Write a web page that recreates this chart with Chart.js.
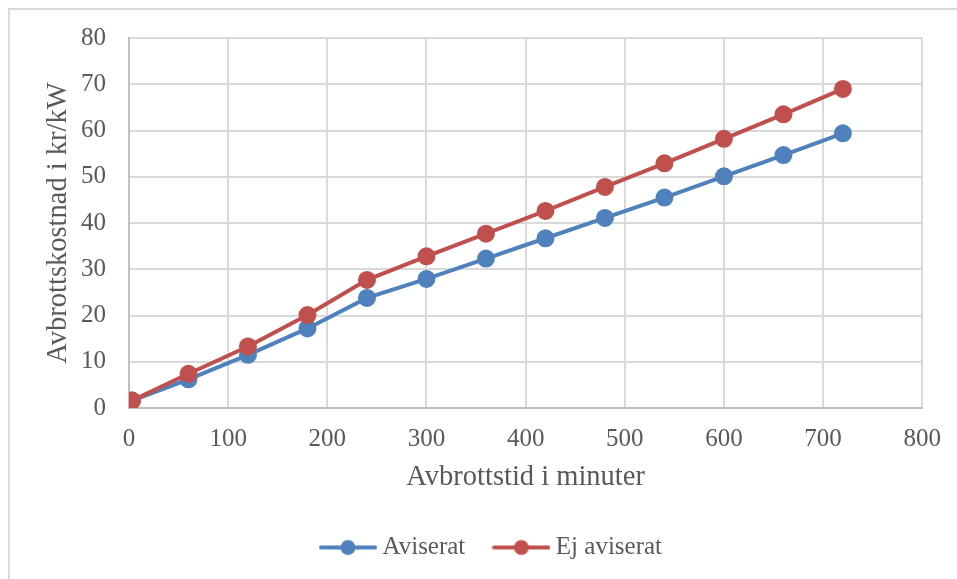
<!DOCTYPE html>
<html>
<head>
<meta charset="utf-8">
<script src="https://cdn.jsdelivr.net/npm/chart.js@4.4.1/dist/chart.umd.min.js"></script>
<style>
    html, body { margin: 0; padding: 0; background: #ffffff; }
    #wrap { position: relative; width: 957px; height: 579px; overflow: hidden; }
    #frame { position: absolute; left: 8px; top: 8px; width: 1200px; height: 800px;
             border-left: 2px solid #d9d9d9; border-top: 2px solid #d9d9d9; }
    #chart { position: absolute; left: 0; top: 0; }
</style>
</head>
<body>
<div id="wrap">
    <div id="frame"></div>
    <canvas id="chart" width="957" height="579"></canvas>
</div>
<script>
// Datos
const minutes = [3, 60, 120, 180, 240, 300, 360, 420, 480, 540, 600, 660, 720];
const aviserat = [1.6, 6.2, 11.5, 17.2, 23.8, 27.9, 32.3, 36.7, 41.1, 45.5, 50.1, 54.7, 59.4];
const ejAviserat = [1.6, 7.4, 13.3, 20.1, 27.7, 32.8, 37.7, 42.6, 47.8, 52.9, 58.2, 63.5, 69.0];
const xTicks = [0, 100, 200, 300, 400, 500, 600, 700, 800];
const yTicks = [0, 10, 20, 30, 40, 50, 60, 70, 80];

const BLUE = '#4f81bd';
const RED = '#c0504d';
const TEXT = '#595959';
const FONT = "'Liberation Serif', 'Times New Roman', serif";

// Icono de leyenda: linea con marcador
function legendIcon(color) {
    const c = document.createElement('canvas');
    c.width = 58;
    c.height = 18;
    const g = c.getContext('2d');
    g.strokeStyle = color;
    g.lineWidth = 4;
    g.lineCap = 'round';
    g.beginPath();
    g.moveTo(2, 9);
    g.lineTo(56, 9);
    g.stroke();
    g.fillStyle = color;
    g.beginPath();
    g.arc(29, 9, 7.5, 0, Math.PI * 2);
    g.fill();
    return c;
}

function toPoints(ys) {
    return ys.map((y, i) => ({ x: minutes[i], y: y }));
}

const series = [
    { label: 'Aviserat', data: toPoints(aviserat), color: BLUE, order: 1 },
    { label: 'Ej aviserat', data: toPoints(ejAviserat), color: RED, order: 0 }
];

const datasets = series.map(s => ({
    label: s.label,
    data: s.data,
    borderColor: s.color,
    backgroundColor: s.color,
    pointBackgroundColor: s.color,
    pointBorderColor: s.color,
    borderWidth: 4,
    pointRadius: 7,
    pointHoverRadius: 7,
    showLine: true,
    tension: 0,
    order: s.order
}));

// mover la leyenda un poco a la derecha (centrada en el marco)
const legendShift = {
    id: 'legendShift',
    afterLayout(chart) {
        chart.legend.left += 26;
        chart.legend.right += 26;
    }
};

new Chart(document.getElementById('chart').getContext('2d'), {
    type: 'scatter',
    data: { datasets: datasets },
    plugins: [legendShift],
    options: {
        responsive: false,
        animation: false,
        layout: { padding: { top: 22, right: 21, bottom: 9, left: 0 } },
        plugins: {
            tooltip: { enabled: false },
            legend: {
                position: 'bottom',
                labels: {
                    color: TEXT,
                    font: { family: FONT, size: 25 },
                    usePointStyle: true,
                    pointStyleWidth: 44,
                    padding: 34,
                    generateLabels: function (chart) {
                        return chart.data.datasets.map((ds, i) => ({
                            text: ds.label,
                            fontColor: TEXT,
                            pointStyle: legendIcon(ds.borderColor),
                            fillStyle: ds.borderColor,
                            strokeStyle: ds.borderColor,
                            lineWidth: 0,
                            hidden: false,
                            datasetIndex: i
                        }));
                    }
                }
            }
        },
        scales: {
            x: {
                type: 'linear',
                min: 0,
                max: 800,
                afterBuildTicks: function (scale) {
                    scale.ticks = xTicks.map(v => ({ value: v }));
                },
                afterFit: function (scale) {
                    scale.height = 93;
                },
                grid: { color: '#d9d9d9', lineWidth: 2, drawTicks: false },
                border: { color: '#bfbfbf', width: 2 },
                ticks: {
                    color: TEXT,
                    padding: 16,
                    maxRotation: 0,
                    font: { family: FONT, size: 25 }
                },
                title: {
                    display: true,
                    text: 'Avbrottstid i minuter',
                    color: TEXT,
                    font: { family: FONT, size: 28.5 },
                    padding: { top: 0, bottom: 6 }
                }
            },
            y: {
                type: 'linear',
                min: 0,
                max: 80,
                afterBuildTicks: function (scale) {
                    scale.ticks = yTicks.map(v => ({ value: v }));
                },
                afterFit: function (scale) {
                    scale.width = 129;
                },
                grid: { color: '#d9d9d9', lineWidth: 2, drawTicks: false },
                border: { color: '#bfbfbf', width: 2 },
                ticks: {
                    color: TEXT,
                    padding: 23,
                    font: { family: FONT, size: 25 }
                },
                title: {
                    display: true,
                    text: 'Avbrottskostnad i kr/kW',
                    color: TEXT,
                    font: { family: FONT, size: 28.5 },
                    padding: { top: 41, bottom: 0 }
                }
            }
        }
    }
});
</script>
</body>
</html>
